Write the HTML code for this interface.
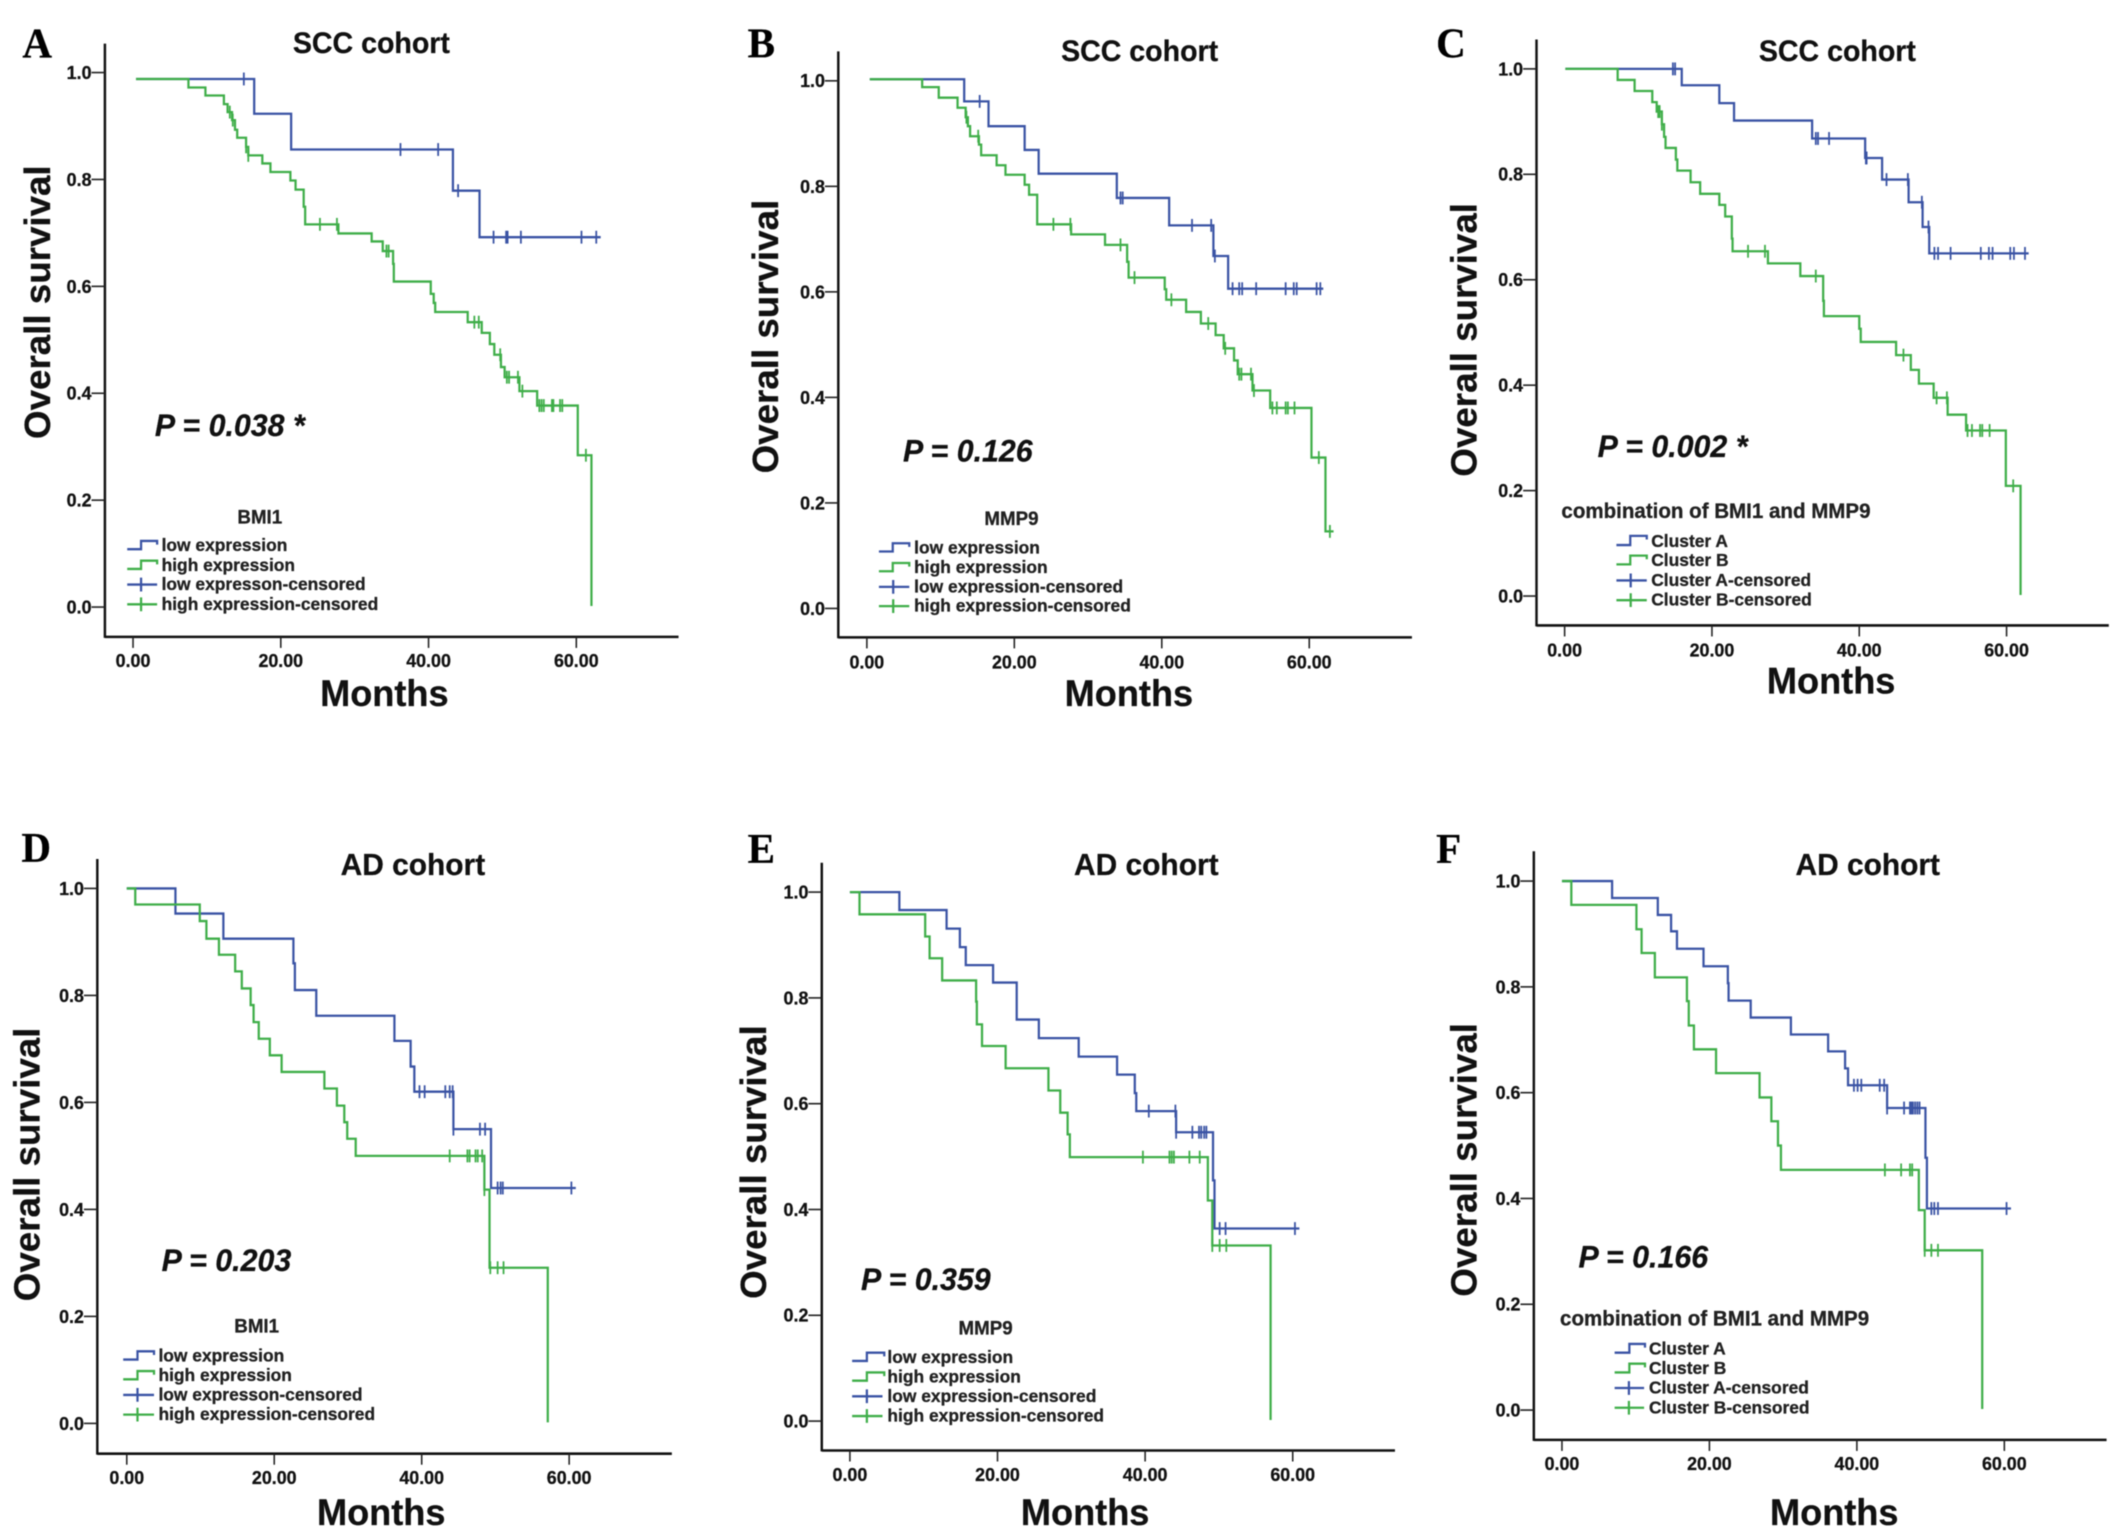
<!DOCTYPE html>
<html lang="en">
<head>
<meta charset="utf-8">
<title>Overall survival by BMI1 and MMP9 expression</title>
<style>
html,body{margin:0;padding:0;background:#fff;width:2126px;height:1538px;overflow:hidden}
svg{display:block;filter:blur(0.45px)}
text{font-family:"Liberation Sans",sans-serif;font-weight:700;fill:#111;stroke:#111;stroke-width:0.6px}
.letter{font-family:"Liberation Serif",serif;font-size:92px;fill:#000}
.title{font-size:64px;text-anchor:middle}
.ad{font-size:67px}
.months{font-size:81px;text-anchor:middle}
.ytitle{font-size:80px;text-anchor:middle}
.p{font-size:68px;font-style:italic}
.lt{font-size:42px;text-anchor:middle;fill:#222}
.combo{font-size:46px}
.lg{font-size:39px;fill:#222}
.tick{font-size:40px}
.axis{stroke:#111;stroke-width:5.5;fill:none}
.tk{stroke:#222;stroke-width:3.5;fill:none}
.b{stroke:#3a53a4;stroke-width:5;fill:none}
.g{stroke:#3fae49;stroke-width:5;fill:none}
</style>
</head>
<body>
<svg id="chart" width="2126" height="1538" viewBox="0 0 2126 1538" xmlns="http://www.w3.org/2000/svg">
<rect width="2126" height="1538" fill="#fff"/>

<g id="panel-a" transform="translate(0,0) scale(0.4464,0.4592)">
<text class="letter" x="50" y="125">A</text>
<text class="title" x="832" y="115">SCC cohort</text>
<text class="ytitle" transform="translate(112,658) rotate(-90)">Overall survival</text>
<text class="months" x="861" y="1538">Months</text>
<text class="p" x="347" y="950">P = 0.038 *</text>
<g>
<text class="lt" x="582" y="1140">BMI1</text>
<path class="b" d="M285 1196H316V1178H352V1186"/><text class="lg" x="362" y="1200">low expression</text>
<path class="g" d="M285 1239H316V1221H352V1229"/><text class="lg" x="362" y="1243">high expression</text>
<path class="b" d="M285 1273H352M316 1258V1288"/><text class="lg" x="362" y="1285">low expresson-censored</text>
<path class="g" d="M285 1316H352M316 1301V1331"/><text class="lg" x="362" y="1328">high expression-censored</text>
</g>
</g>

<g id="panel-b" transform="translate(720,0) scale(0.4464,0.4592)">
<text class="letter" x="62" y="125">B</text>
<text class="title" x="940" y="133">SCC cohort</text>
<text class="ytitle" transform="translate(130,733) rotate(-90)">Overall survival</text>
<text class="months" x="916" y="1538">Months</text>
<text class="p" x="410" y="1005">P = 0.126</text>
<g>
<text class="lt" x="653" y="1143">MMP9</text>
<path class="b" d="M356 1201H387V1183H424V1191"/><text class="lg" x="435" y="1205">low expression</text>
<path class="g" d="M356 1244H387V1226H424V1234"/><text class="lg" x="435" y="1248">high expression</text>
<path class="b" d="M356 1278H424M388 1263V1293"/><text class="lg" x="435" y="1290">low expression-censored</text>
<path class="g" d="M356 1320H424M388 1305V1335"/><text class="lg" x="435" y="1332">high expression-censored</text>
</g>
</g>

<g id="panel-c" transform="translate(1420,0) scale(0.4464,0.4592)">
<text class="letter" x="36" y="125">C</text>
<text class="title" x="935" y="133">SCC cohort</text>
<text class="ytitle" transform="translate(127,740) rotate(-90)">Overall survival</text>
<text class="months" x="921" y="1510">Months</text>
<text class="p" x="398" y="995">P = 0.002 *</text>
<g>
<text class="lt combo" x="663" y="1128">combination of BMI1 and MMP9</text>
<path class="b" d="M440 1187H471V1167H508V1175"/><text class="lg" x="518" y="1191">Cluster A</text>
<path class="g" d="M440 1229H471V1210H508V1218"/><text class="lg" x="518" y="1233">Cluster B</text>
<path class="b" d="M440 1264H508M472 1249V1279"/><text class="lg" x="518" y="1276">Cluster A-censored</text>
<path class="g" d="M440 1307H508M472 1292V1322"/><text class="lg" x="518" y="1319">Cluster B-censored</text>
</g>
</g>

<g id="panel-d" transform="translate(0,820) scale(0.4464,0.4592)">
<text class="letter" x="48" y="92">D</text>
<text class="title ad" x="925" y="120">AD cohort</text>
<text class="ytitle" transform="translate(88,750) rotate(-90)">Overall survival</text>
<text class="months" x="854" y="1535">Months</text>
<text class="p" x="362" y="982">P = 0.203</text>
<g>
<text class="lt" x="575" y="1116">BMI1</text>
<path class="b" d="M276 1175H308V1157H345V1165"/><text class="lg" x="355" y="1179">low expression</text>
<path class="g" d="M276 1218H308V1200H345V1208"/><text class="lg" x="355" y="1222">high expression</text>
<path class="b" d="M276 1252H345M308 1237V1267"/><text class="lg" x="355" y="1264">low expresson-censored</text>
<path class="g" d="M276 1295H345M308 1280V1310"/><text class="lg" x="355" y="1307">high expression-censored</text>
</g>
</g>

<g id="panel-e" transform="translate(720,820) scale(0.4464,0.4592)">
<text class="letter" x="62" y="94">E</text>
<text class="title ad" x="955" y="120">AD cohort</text>
<text class="ytitle" transform="translate(103,745) rotate(-90)">Overall survival</text>
<text class="months" x="818" y="1535">Months</text>
<text class="p" x="316" y="1023">P = 0.359</text>
<g>
<text class="lt" x="595" y="1120">MMP9</text>
<path class="b" d="M296 1178H329V1160H368V1168"/><text class="lg" x="375" y="1182">low expression</text>
<path class="g" d="M296 1221H329V1203H368V1211"/><text class="lg" x="375" y="1225">high expression</text>
<path class="b" d="M296 1255H364M329 1240V1270"/><text class="lg" x="375" y="1267">low expression-censored</text>
<path class="g" d="M296 1298H364M329 1283V1313"/><text class="lg" x="375" y="1310">high expression-censored</text>
</g>
</g>

<g id="panel-f" transform="translate(1420,820) scale(0.4464,0.4592)">
<text class="letter" x="36" y="94">F</text>
<text class="title ad" x="1003" y="120">AD cohort</text>
<text class="ytitle" transform="translate(127,740) rotate(-90)">Overall survival</text>
<text class="months" x="928" y="1535">Months</text>
<text class="p" x="355" y="975">P = 0.166</text>
<g>
<text class="lt combo" x="660" y="1101">combination of BMI1 and MMP9</text>
<path class="b" d="M436 1160H469V1141H504V1149"/><text class="lg" x="513" y="1164">Cluster A</text>
<path class="g" d="M436 1203H469V1184H504V1192"/><text class="lg" x="513" y="1207">Cluster B</text>
<path class="b" d="M436 1237H502M468 1222V1252"/><text class="lg" x="513" y="1249">Cluster A-censored</text>
<path class="g" d="M436 1280H502M468 1265V1295"/><text class="lg" x="513" y="1292">Cluster B-censored</text>
</g>
</g>
</svg>

<script>
const xTickValues = [0, 20, 40, 60];
const xTickLabels = ["0.00", "20.00", "40.00", "60.00"];
const yTickValues = [0, 0.2, 0.4, 0.6, 0.8, 1];
const yTickLabels = ["0.0", "0.2", "0.4", "0.6", "0.8", "1.0"];

const aLowMonths = [0.4,16.4,21.4,43.3,46.9,63.3];
const aLowSurvival = [.988,.923,.856,.779,.692,.692];
const aLowCensored = [15.0,36.2,41.3,44.0,48.8,50.5,50.7,52.5,60.7,62.7];
const aHighMonths = [0.4,7.5,9.8,12.3,12.8,13.4,13.8,14.1,15.3,15.6,17.5,18.6,21.3,22.0,23.1,23.3,27.8,32.3,33.8,35.2,35.3,40.3,40.7,40.9,45.3,47.2,48.3,48.9,49.8,50.3,52.3,54.7,60.2,62.05];
const aHighSurvival = [.988,.972,.957,.941,.926,.911,.893,.878,.861,.845,.830,.814,.798,.781,.749,.716,.699,.684,.666,.642,.609,.586,.569,.552,.533,.513,.492,.472,.449,.430,.404,.377,.284,.002];
const aHighCensored = [13.1,13.5,15.3,15.6,25.3,27.6,34.3,34.6,46.2,46.8,49.7,50.6,50.9,52.1,52.7,55,55.3,55.6,56.7,56.9,57.8,58.1,61.3];

const bLowMonths = [0.4,13.2,16.5,21.4,23.3,33.9,41.0,47.0,49.0,61.9];
const bLowSurvival = [1.003,.961,.914,.869,.824,.778,.726,.668,.606,.606];
const bLowCensored = [15.3,34.4,34.7,44.1,46.7,47.2,49.6,50.5,50.9,52.8,56.8,57.9,58.3,61.0,61.5];
const bHighMonths = [0.4,7.5,9.75,12.3,13.4,13.7,14.0,15.2,15.5,17.6,18.8,21.4,22.0,23.1,27.7,32.3,35.3,35.5,40.4,40.6,43.3,45.3,47.3,48.4,49.8,50.3,52.3,54.7,60.3,62.2,63.3];
const bHighSurvival = [1.003,.988,.968,.949,.931,.914,.895,.879,.859,.840,.822,.803,.784,.728,.709,.689,.657,.627,.605,.585,.562,.540,.518,.493,.470,.444,.413,.380,.286,.146,.146];
const bHighCensored = [13.5,15.1,25.3,27.6,34.4,36.3,41.3,46.3,48.6,50.5,50.8,52.1,52.5,55,55.6,56.8,57.1,58,61.3,62.8];

const cLowMonths = [0.1,15.9,21.0,23.0,33.6,40.8,43.1,46.7,48.6,49.5,63.0];
const cLowSurvival = [1,.969,.935,.902,.868,.831,.790,.747,.700,.650,.650];
const cLowCensored = [14.7,15.0,34.1,34.4,35.9,40.9,41.0,43.7,46.6,48.5,49.4,50.2,50.7,52.4,56.5,57.6,58.1,60.5,61,62.5];
const cHighMonths = [0.1,7.2,9.5,11.9,12.5,13.2,13.5,13.7,15.1,15.3,17.1,18.4,21.0,21.8,22.7,22.8,27.6,32.0,35.1,35.2,40.0,40.2,45.0,47.0,48.1,50.1,52.0,54.5,59.9,61.9];
const cHighSurvival = [1,.979,.958,.937,.919,.895,.871,.850,.828,.807,.785,.763,.742,.720,.678,.654,.631,.607,.560,.531,.507,.482,.457,.429,.403,.376,.344,.314,.209,.002];
const cHighCensored = [12.7,12.9,13.2,24.9,27.2,34.1,46.0,50.5,51.9,54.7,55.3,56.4,56.7,57.7,60.9];

const dLowMonths = [0,6.6,13.1,22.6,22.8,25.7,36.3,38.5,39.0,44.3,49.4,60.9];
const dLowSurvival = [1,.953,.906,.860,.810,.762,.715,.667,.620,.550,.440,.440];
const dLowCensored = [39.7,40.4,43.2,43.8,44.2,44.3,47.9,48.6,50.3,50.7,51,60.3];
const dHighMonths = [0,1.15,9.9,10.8,12.5,14.7,15.6,16.8,17.2,17.9,19.4,21.0,26.8,28.5,29.5,29.9,31.05,48.5,49.2,57.1];
const dHighSurvival = [1,.970,.939,.906,.876,.845,.813,.782,.750,.719,.688,.657,.626,.594,.563,.532,.500,.437,.291,.002];
const dHighCensored = [43.8,46.2,46.5,47.3,47.6,48.2,48.5,49.3,50.3,51.1];

const eLowMonths = [0,6.7,13.1,14.9,15.7,19.4,22.6,25.6,31.0,36.2,38.6,38.8,44.2,49.2,49.4,60.9];
const eLowSurvival = [1,.966,.931,.896,.862,.829,.759,.724,.689,.655,.620,.586,.546,.455,.364,.364];
const eLowCensored = [40.5,44.1,44.2,46.4,47.3,47.6,48,48.3,50.1,50.9,60.3];
const eHighMonths = [0,1.3,10.2,10.8,12.5,17.1,17.2,17.9,21.1,26.9,28.5,29.5,29.8,48.5,49.1,57.0];
const eHighSurvival = [1,.958,.916,.875,.833,.793,.750,.709,.667,.625,.583,.542,.499,.417,.332,.002];
const eHighCensored = [39.7,43.3,43.6,43.9,46.0,47.4,49.1,50.1,51];

const fLowMonths = [0,6.8,13.0,14.8,15.6,19.2,22.5,22.6,25.6,31.05,36.1,38.4,38.8,44.1,49.3,49.5,60.9];
const fLowSurvival = [1,.968,.936,.905,.872,.839,.807,.774,.742,.710,.678,.646,.614,.571,.477,.381,.381];
const fLowCensored = [39.6,40.1,40.6,43.1,43.7,44.1,46.4,47.2,47.4,47.6,47.9,48.2,48.5,50.1,50.5,51,60.3];
const fHighMonths = [0,1.27,10.1,10.8,12.6,16.95,17.2,17.9,20.9,26.8,28.4,29.3,29.7,48.4,49.2,57.0];
const fHighSurvival = [1,.955,.909,.864,.818,.773,.727,.682,.637,.591,.546,.500,.454,.378,.302,.002];
const fHighCensored = [43.8,46,47.2,47.5,49.2,50.1,51];

const panelLayouts = [
  {id:"panel-a",x0:298,x60:1291,y1:158,y0:1322,ax:235,top:95,bot:1387,right:1520,lab:1453,low:[aLowMonths,aLowSurvival,aLowCensored],high:[aHighMonths,aHighSurvival,aHighCensored]},
  {id:"panel-b",x0:329,x60:1320,y1:176,y0:1325,ax:265,top:112,bot:1388,right:1550,lab:1456,low:[bLowMonths,bLowSurvival,bLowCensored],high:[bHighMonths,bHighSurvival,bHighCensored]},
  {id:"panel-c",x0:324,x60:1314,y1:150,y0:1298,ax:261,top:86,bot:1362,right:1543,lab:1430,low:[cLowMonths,cLowSurvival,cLowCensored],high:[cHighMonths,cHighSurvival,cHighCensored]},
  {id:"panel-d",x0:284,x60:1275,y1:149,y0:1314,ax:218,top:85,bot:1380,right:1505,lab:1446,low:[dLowMonths,dLowSurvival,dLowCensored],high:[dHighMonths,dHighSurvival,dHighCensored]},
  {id:"panel-e",x0:291,x60:1283,y1:157,y0:1309,ax:228,top:93,bot:1373,right:1512,lab:1440,low:[eLowMonths,eLowSurvival,eLowCensored],high:[eHighMonths,eHighSurvival,eHighCensored]},
  {id:"panel-f",x0:318,x60:1309,y1:133,y0:1285,ax:255,top:68,bot:1350,right:1538,lab:1416,low:[fLowMonths,fLowSurvival,fLowCensored],high:[fHighMonths,fHighSurvival,fHighCensored]}
];

const NS = "http://www.w3.org/2000/svg";
function mk(parent, tag, attrs, txt) {
  const el = document.createElementNS(NS, tag);
  for (const k in attrs) el.setAttribute(k, attrs[k]);
  if (txt !== undefined) el.textContent = txt;
  parent.appendChild(el);
  return el;
}
function survivalAt(months, survival, t) {
  let s = survival[0];
  for (let i = 0; i < months.length; i++) if (months[i] <= t) s = survival[i];
  return s;
}
function drawSeries(g, data, cls, xs, ys, seriesName) {
  const months = data[0], survival = data[1], censored = data[2];
  let d = "M" + xs(months[0]) + " " + ys(survival[0]);
  for (let i = 1; i < months.length; i++) d += "H" + xs(months[i]) + "V" + ys(survival[i]);
  const line = mk(g, "path", {class: cls, d: d});
  
  
  censored.forEach(function (t) {
    const y = ys(survivalAt(months, survival, t));
    const mark = mk(g, "path", {class: cls, d: "M" + xs(t) + " " + (y - 14) + "V" + (y + 14), style: "stroke-width:4"});
    
    
  });
}
panelLayouts.forEach(function (p) {
  const g = document.getElementById(p.id);
  const xs = function (m) { return p.x0 + (p.x60 - p.x0) * m / 60; };
  const ys = function (v) { return p.y0 + (p.y1 - p.y0) * v; };

  const yAxis = mk(g, "line", {class: "axis", x1: p.ax, x2: p.ax, y1: p.top, y2: p.bot + 2});
  
  
  const xAxis = mk(g, "line", {class: "axis", x1: p.ax, x2: p.right, y1: p.bot, y2: p.bot});
  
  

  xTickValues.forEach(function (v, i) {
    const tick = mk(g, "line", {class: "tk", x1: xs(v), x2: xs(v), y1: p.bot, y2: p.bot + 24});
    
    
    const label = mk(g, "text", {class: "tick", x: xs(v), y: p.lab, "text-anchor": "middle"}, xTickLabels[i]);
    
    
  });
  yTickValues.forEach(function (v, i) {
    const tick = mk(g, "line", {class: "tk", x1: p.ax - 30, x2: p.ax, y1: ys(v), y2: ys(v)});
    
    
    const label = mk(g, "text", {class: "tick", x: p.ax - 30, y: ys(v) + 14, "text-anchor": "end"}, yTickLabels[i]);
    
    
  });
  drawSeries(g, p.low, "b", xs, ys, "low");
  drawSeries(g, p.high, "g", xs, ys, "high");
});
</script>
</body>
</html>
